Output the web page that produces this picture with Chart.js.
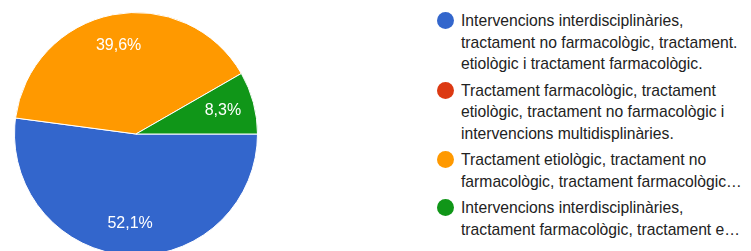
<!DOCTYPE html>
<html>
<head>
<meta charset="utf-8">
<script src="https://cdn.jsdelivr.net/npm/chart.js@4"></script>
<style>
  html, body { margin: 0; padding: 0; background: #fff; width: 751px; height: 251px; overflow: hidden; }
  #pieBox { position: absolute; left: 14px; top: 12px; width: 244px; height: 244px; }
  #legend { position: absolute; left: 437px; top: 10px; font-family: "Liberation Sans", Arial, sans-serif; font-size: 15.7px; color: #222; }
  .item { position: relative; padding-left: 24px; line-height: 21.5px; margin-bottom: 5px; white-space: nowrap; }
  .dot { position: absolute; left: 0; top: 2px; width: 17px; height: 17px; border-radius: 50%; }
</style>
</head>
<body>
<div id="pieBox"><canvas id="pie"></canvas></div>
<div id="legend"></div>
<script>
// answer categories (legend text, split as shown)
const categories = [
    ['Intervencions interdisciplinàries,', 'tractament no farmacològic, tractament.', 'etiològic i tractament farmacològic.'],
    ['Tractament farmacològic, tractament', 'etiològic, tractament no farmacològic i', 'intervencions multidisplinàries.'],
    ['Tractament etiològic, tractament no', 'farmacològic, tractament farmacològic…'],
    ['Intervencions interdisciplinàries,', 'tractament farmacològic, tractament e…']
];
const percentages = [52.1, 0, 39.6, 8.3];
const colors = ['#3366cc', '#dc3912', '#ff9900', '#109618'];

// white percentage labels inside the slices
const sliceLabels = {
    id: 'sliceLabels',
    afterDatasetsDraw(chart) {
        const ctx = chart.ctx;
        const meta = chart.getDatasetMeta(0);
        ctx.save();
        ctx.fillStyle = '#fff';
        ctx.font = '16px "Liberation Sans", Arial, sans-serif';
        ctx.textAlign = 'center';
        ctx.textBaseline = 'middle';
        meta.data.forEach((arc, i) => {
            const v = percentages[i];
            if (!v) return;
            const p = arc.getProps(['x', 'y', 'startAngle', 'endAngle', 'outerRadius'], true);
            const mid = (p.startAngle + p.endAngle) / 2;
            const r = p.outerRadius * 0.74;
            ctx.fillText(v.toFixed(1).replace('.', ',') + '%', p.x + Math.cos(mid) * r, p.y + Math.sin(mid) * r);
        });
        ctx.restore();
    }
};

new Chart(document.getElementById('pie'), {
    type: 'pie',
    data: {
        labels: categories.map(l => l.join(' ')),
        datasets: [{
            data: percentages,
            backgroundColor: colors,
            borderColor: '#fff',
            borderWidth: 1
        }]
    },
    options: {
        responsive: true,
        maintainAspectRatio: false,
        animation: false,
        rotation: 90,
        layout: { padding: 0 },
        plugins: {
            legend: { display: false },
            tooltip: { enabled: false }
        }
    },
    plugins: [sliceLabels]
});

// legend on the right
const legend = document.getElementById('legend');
categories.forEach((lines, i) => {
    const item = document.createElement('div');
    item.className = 'item';
    const dot = document.createElement('span');
    dot.className = 'dot';
    dot.style.background = colors[i];
    item.appendChild(dot);
    lines.forEach((t, j) => {
        if (j) item.appendChild(document.createElement('br'));
        item.appendChild(document.createTextNode(t));
    });
    legend.appendChild(item);
});
</script>
</body>
</html>
